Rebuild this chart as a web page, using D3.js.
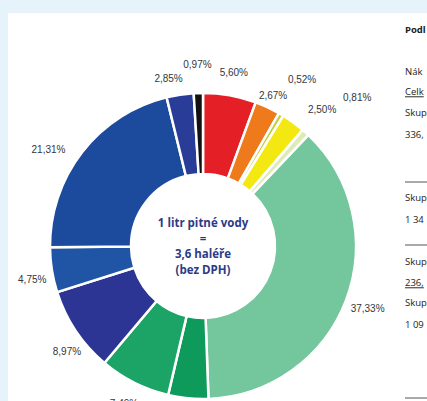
<!DOCTYPE html>
<html>
<head>
<meta charset="utf-8">
<script src="https://cdn.jsdelivr.net/npm/d3@7/dist/d3.min.js"></script>
<style>
  html, body { margin: 0; padding: 0; background: #e6f3fb; }
  svg { display: block; }
</style>
</head>
<body>
<div id="chart"></div>
<script>
// slice data, clockwise from 12 o'clock (the dark green slice's label lies below the picture)
const labels = ["5,60%", "2,67%", "0,52%", "2,50%", "0,81%", "37,33%", "", "7,49%", "8,97%", "4,75%", "21,31%", "2,85%", "0,97%"];
const values = [5.60, 2.67, 0.52, 2.50, 0.81, 37.33, 4.23, 7.49, 8.97, 4.75, 21.31, 2.85, 0.97];
const colors = ["#e41f26", "#ee7a1c", "#c2cf3c", "#f3e812", "#dcebb8", "#74c69c", "#0e9a5a", "#1ca466", "#2c3594", "#1f55a4", "#1c4b9e", "#293d98", "#111111"];

const centerLines = ["1 litr pitné vody", "=", "3,6 haléře", "(bez DPH)"];
const sideLines = ["Podl", "Nák", "Celk", "Skup", "336,", "Skup", "1 34", "Skup", "236,", "Skup", "1 09"];

const width = 427, height = 401;
const cx = 203, cy = 246;
const outerR = 153, innerR = 72;

//Label radius is the same for most slices, a few small ones are pushed out so they don't overlap
const labelR = 176;
const labelTweak = {"0,52%": [18, 0], "0,81%": [38, 4], "2,67%": [-10, 0], "2,50%": [5, 5], "0,97%": [6, 0], "2,85%": [-5, -3], "21,31%": [6, -6], "8,97%": [-4, -4], "4,75%": [-2, -2]};

const svg = d3.select("#chart")
    .append("svg")
    .attr("width", width)
    .attr("height", height);

//white page panel
svg.append("rect")
    .attr("x", 8).attr("y", 13)
    .attr("width", width - 8).attr("height", height - 13)
    .attr("fill", "#ffffff");

const pie = d3.pie().sort(null).value(d => d)(values);
const arc = d3.arc().innerRadius(innerR).outerRadius(outerR);

const g = svg.append("g").attr("transform", "translate(" + cx + "," + cy + ")");

g.selectAll("path.slice")
    .data(pie)
    .join("path")
    .attr("class", "slice")
    .attr("d", arc)
    .attr("fill", (d, i) => colors[i])
    .attr("stroke", "#ffffff")
    .attr("stroke-width", 2.5)
    .attr("stroke-linejoin", "miter");

g.selectAll("text.pct")
    .data(pie.filter((d, i) => labels[i] != ""))
    .join("text")
    .attr("class", "pct")
    .attr("transform", d => {
        const t = labelTweak[labels[d.index]] || [0, 0];
        const a = (d.startAngle + d.endAngle) / 2 + t[1] * Math.PI / 180;
        const r = labelR + t[0];
        return "translate(" + (r * Math.sin(a)) + "," + (-r * Math.cos(a)) + ")";
    })
    .attr("text-anchor", "middle")
    .attr("dy", "0.35em")
    .attr("font-family", "Liberation Sans, Arial, sans-serif")
    .attr("font-size", 10)
    .attr("fill", "#33363c")
    .text(d => labels[d.index]);

//text in the hole
g.selectAll("text.center")
    .data(centerLines)
    .join("text")
    .attr("class", "center")
    .attr("x", 0)
    .attr("y", (d, i) => [-23, -7, 8, 24][i])
    .attr("text-anchor", "middle")
    .attr("dy", "0.35em")
    .attr("font-family", "Open Sans, sans-serif")
    .attr("font-weight", "bold")
    .attr("font-size", 11.5)
    .attr("fill", "#2d3a87")
    .text(d => d);

//cut off text column on the right
const sideY = [30, 72, 92, 113, 135, 198, 220, 262, 283, 303, 325];
const underlined = [2, 8];
svg.selectAll("text.side")
    .data(sideLines)
    .join("text")
    .attr("class", "side")
    .attr("x", 405)
    .attr("y", (d, i) => sideY[i])
    .attr("dy", "0.35em")
    .attr("font-family", "Open Sans, sans-serif")
    .attr("font-weight", (d, i) => i == 0 ? "bold" : "normal")
    .attr("font-size", 9.5)
    .attr("fill", "#222")
    .attr("text-decoration", (d, i) => underlined.includes(i) ? "underline" : "none")
    .text(d => d);

svg.selectAll("line.rule")
    .data([182, 245, 398])
    .join("line")
    .attr("class", "rule")
    .attr("x1", 405).attr("x2", width)
    .attr("y1", d => d).attr("y2", d => d)
    .attr("stroke", "#555")
    .attr("stroke-width", 1);
</script>
</body>
</html>
